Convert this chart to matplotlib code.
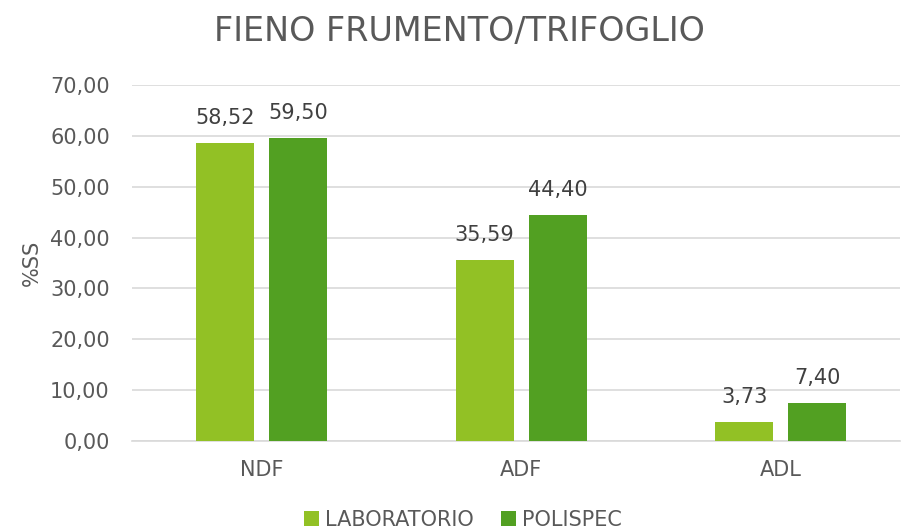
import numpy as np
from matplotlib import pyplot as plt
from matplotlib.ticker import FuncFormatter

categories = ['NDF', 'ADF', 'ADL']
laboratorio = [58.52, 35.59, 3.73]
polispec = [59.50, 44.40, 7.40]
series_names = ['LABORATORIO', 'POLISPEC']
colors = ['#92C125', '#52A022']


def comma(v, decimals=2):
    return f'{v:.{decimals}f}'.replace('.', ',')


plt.rcParams['font.family'] = ['DejaVu Sans']
fig = plt.figure(figsize=(9.02, 5.32), dpi=100)
ax = fig.add_axes([132 / 902, 1 - 441 / 532, 768 / 902, 356 / 532])

x = np.arange(len(categories))
w = 0.224
off = (w + 0.058) / 2
b1 = ax.bar(x - off, laboratorio, w, color=colors[0], label=series_names[0], zorder=3)
b2 = ax.bar(x + off, polispec, w, color=colors[1], label=series_names[1], zorder=3)

for bars, vals in [(b1, laboratorio), (b2, polispec)]:
    for rect, v in zip(bars, vals):
        ax.annotate(comma(v), (rect.get_x() + rect.get_width() / 2, v),
                    xytext=(0, 11), textcoords='offset points',
                    ha='center', va='bottom', fontsize=15, color='#404040')

ax.set_xlim(-0.5, -0.5 + 768 / 259.5)
ax.set_ylim(0, 70)
ax.set_yticks(np.arange(0, 71, 10))
ax.yaxis.set_major_formatter(FuncFormatter(lambda v, p: comma(v)))
ax.set_xticks(x)
ax.set_xticklabels(categories)
ax.tick_params(axis='both', length=0, labelsize=15, colors='#595959')
ax.tick_params(axis='x', pad=14)
ax.tick_params(axis='y', pad=16)
ax.grid(axis='y', color='#D9D9D9', linewidth=1.2, zorder=0)
for s in ['top', 'right', 'left']:
    ax.spines[s].set_visible(False)
ax.spines['bottom'].set_color('#D9D9D9')
ax.spines['bottom'].set_linewidth(1.2)

ax.set_ylabel('%SS', fontsize=15, color='#595959', labelpad=6)
fig.text(459 / 902, 1 - 32 / 532, 'FIENO FRUMENTO/TRIFOGLIO', ha='center', va='center',
         fontsize=24, color='#595959')

fig.legend(loc='center', bbox_to_anchor=(463 / 902, 1 - 520 / 532), ncol=2, frameon=False,
           fontsize=15, handlelength=0.7, handleheight=0.7, handletextpad=0.3,
           columnspacing=1.3, labelcolor='#595959')

fig.savefig('out.png', dpi=100)
